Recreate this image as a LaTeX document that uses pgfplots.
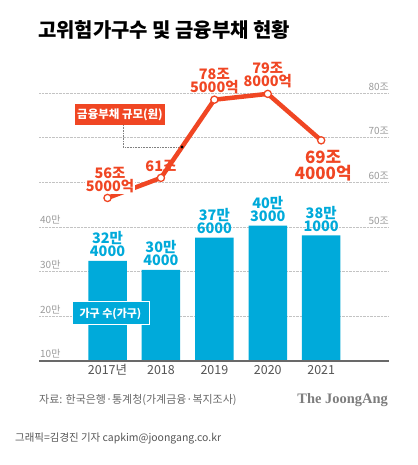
\documentclass[border=0pt]{standalone}
\usepackage{pgfplots}
\pgfplotsset{compat=1.18}
\usepackage{fontspec}
\setmainfont{Noto Sans CJK KR}
\newfontfamily\logofont{Liberation Serif}
\definecolor{ored}{RGB}{240,70,35}
\definecolor{cblue}{RGB}{0,170,218}
\definecolor{gridgray}{RGB}{195,195,195}
\definecolor{lblgray}{RGB}{155,155,155}
\definecolor{basegray}{RGB}{105,105,105}
\definecolor{txtgray}{RGB}{85,85,85}
\definecolor{srcgray}{RGB}{105,105,105}
\definecolor{logogray}{RGB}{125,125,125}
\tikzset{
  lefttick/.style={anchor=south west, inner sep=0, lblgray, font=\fontsize{10}{12}\selectfont, yshift=2.5bp, xshift=1bp},
  righttick/.style={anchor=south east, inner sep=0, lblgray, font=\fontsize{10}{12}\selectfont, yshift=2.5bp},
  yearlbl/.style={anchor=base, inner sep=0, txtgray, font=\fontsize{12.5}{14}\selectfont, yshift=-14bp},
  barlbl/.style={anchor=south, inner sep=0, cblue, align=center, font=\fontsize{14.5}{13}\selectfont\bfseries, yshift=4bp},
  linelbl/.style={anchor=south, inner sep=1bp, ored, align=center, font=\fontsize{14.5}{13}\selectfont\bfseries, yshift=5bp},
}
\begin{document}
\begin{tikzpicture}[x=1bp,y=1bp]
\useasboundingbox (0,0) rectangle (417,465);
\fill[white] (0,0) rectangle (417,465);
\node[anchor=base west, inner sep=0, font=\fontsize{20}{24}\selectfont\bfseries] at (38,427) {고위험가구수 및 금융부채 현황};
\begin{axis}[
  at={(39bp,104bp)}, anchor=south west,
  scale only axis, width=350bp, height=268bp,
  xmin=-1.283, xmax=5.27, ymin=10, ymax=70,
  axis line style={draw=none},
  ytick={20,30,40,50,60,70}, xtick=\empty,
  yticklabels={}, major tick length=0pt,
  ymajorgrids, grid style={gridgray, densely dotted, line width=0.8bp},
  clip mode=individual,
]
\addplot[ybar, bar width=38.5bp, fill=cblue, draw=none] coordinates {(0,32.4) (1,30.4) (2,37.6) (3,40.3) (4,38.1)};
\draw[basegray, line width=1.3bp] (axis cs:-1.283,10) -- (axis cs:5.27,10);
\node[lefttick] at (axis cs:-1.283,10) {10만};
\node[lefttick] at (axis cs:-1.283,20) {20만};
\node[lefttick] at (axis cs:-1.283,30) {30만};
\node[lefttick] at (axis cs:-1.283,40) {40만};
\node[yearlbl] at (axis cs:0,10) {2017년};
\node[yearlbl] at (axis cs:1,10) {2018};
\node[yearlbl] at (axis cs:2,10) {2019};
\node[yearlbl] at (axis cs:3,10) {2020};
\node[yearlbl] at (axis cs:4,10) {2021};
\node[barlbl] at (axis cs:0,32.4) {32만\\4000};
\node[barlbl] at (axis cs:1,30.4) {30만\\4000};
\node[barlbl] at (axis cs:2,37.6) {37만\\6000};
\node[barlbl] at (axis cs:3,40.3) {40만\\3000};
\node[barlbl] at (axis cs:4,38.1) {38만\\1000};
\end{axis}
\draw[gray, densely dotted, line width=0.6bp] (123,340) -- (123,318) -- (182,318);
\begin{axis}[
  at={(39bp,104bp)}, anchor=south west,
  scale only axis, width=350bp, height=268bp,
  xmin=-1.283, xmax=5.27, ymin=20, ymax=80,
  hide axis, clip=false,
]
\addplot[ored, line width=4.5bp, mark=*, mark size=3.6bp, mark options={fill=white, draw=ored, line width=1.3bp}] coordinates {(0,56.5) (1,61) (2,78.5) (3,79.8) (4,69.4)};
\node[righttick] at (axis cs:5.27,50) {50조};
\node[righttick] at (axis cs:5.27,60) {60조};
\node[righttick] at (axis cs:5.27,70) {70조};
\node[righttick] at (axis cs:5.27,80) {80조};
\node[linelbl, fill=white, yshift=-1bp, xshift=2.5bp] at (axis cs:0,56.5) {56조\\5000억};
\node[linelbl] at (axis cs:1,61) {61조};
\node[linelbl] at (axis cs:2,78.5) {78조\\5000억};
\node[linelbl] at (axis cs:3,79.8) {79조\\8000억};
\node[anchor=north, inner sep=1bp, ored, align=center, font=\fontsize{17}{15.5}\selectfont\bfseries, yshift=-9bp, xshift=2bp] at (axis cs:4,69.4) {69조\\4000억};
\end{axis}
\fill[black] (182,318) circle (1.6);
\node[fill=ored, text=white, font=\fontsize{11.5}{13}\selectfont\bfseries, minimum width=90bp, minimum height=21bp, inner sep=0] at (120,350.5) {금융부채 규모(원)};
\node[fill=cblue, draw=white, line width=1bp, text=white, font=\fontsize{11}{13}\selectfont\bfseries, minimum width=77bp, minimum height=23bp, inner sep=0] at (110.5,151.5) {가구 수(가구)};
\node[anchor=base west, inner sep=0, srcgray, font=\fontsize{11}{13}\selectfont] at (39,61) {자료: 한국은행·통계청(가계금융·복지조사)};
\node[anchor=base east, inner sep=0, logogray, font=\logofont\bfseries\fontsize{14.5}{16}\selectfont] at (388,61.5) {The JoongAng};
\node[anchor=base west, inner sep=0, txtgray, font=\fontsize{10.5}{12}\selectfont] at (15,23) {그래픽=김경진 기자 capkim@joongang.co.kr};
\end{tikzpicture}
\end{document}
